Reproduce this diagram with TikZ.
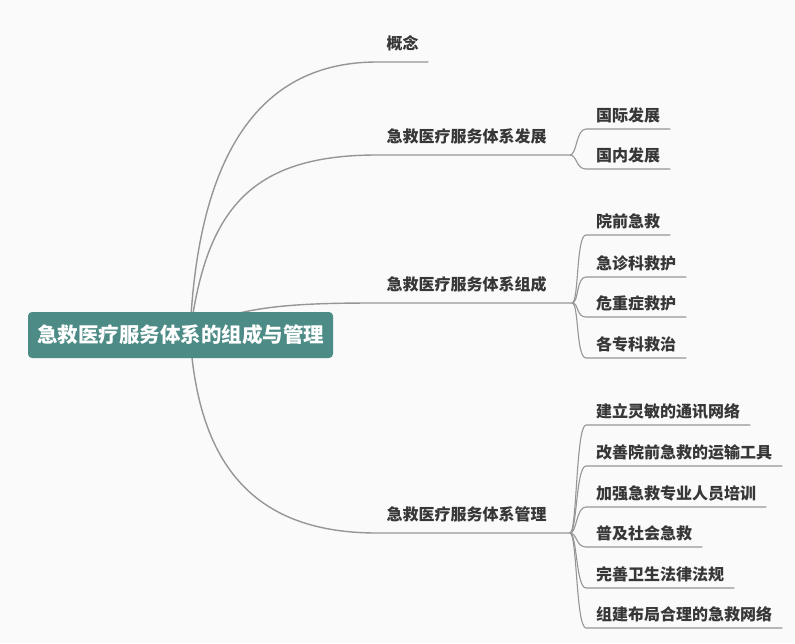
\documentclass[tikz,border=0pt]{standalone}
\usepackage{fontspec}
\setmainfont{Noto Sans CJK SC}
\definecolor{rootfill}{RGB}{77,139,134}
\definecolor{linegray}{RGB}{150,150,150}
\definecolor{txtgray}{RGB}{55,55,55}
\definecolor{bggray}{RGB}{250,250,250}
\tikzset{
  rootbox/.style={fill=rootfill, rounded corners=4pt, text=white, font=\fontsize{20.5}{24}\selectfont\bfseries,
    minimum width=305pt, minimum height=46pt, inner sep=0pt},
  lvlone/.style={anchor=south west, text=txtgray, font=\fontsize{16}{19}\selectfont\bfseries,
    inner xsep=9.5pt, inner ysep=10pt, text height=13pt, text depth=2pt},
  lvltwo/.style={anchor=south west, text=txtgray, font=\fontsize{16}{19}\selectfont\bfseries,
    inner xsep=10pt, inner ysep=5pt, text height=13pt, text depth=2pt},
  conn/.style={draw=linegray, line width=1.4pt},
  subconn/.style={draw=linegray, line width=1.1pt},
}
\begin{document}
\begin{tikzpicture}[x=1pt,y=-1pt]
\fill[bggray] (0,0) rectangle (795,643);
\useasboundingbox (0,0) rectangle (795,643);

\coordinate (rc) at (190,334);

% level one nodes
\node[lvlone] (b1) at (377,62) {概念};
\node[lvlone] (b2) at (377,155) {急救医疗服务体系发展};
\node[lvlone] (b3) at (377,303) {急救医疗服务体系组成};
\node[lvlone] (b4) at (377,533) {急救医疗服务体系管理};

\coordinate (j2) at (570,155);
\coordinate (j3) at (572,303);
\coordinate (j4) at (570,533);

% main connectors
\draw[conn] (rc) .. controls (198,150) and (262,62) .. (b1.south west) -- (b1.south east);
\draw[conn] (rc) .. controls (206,210) and (250,155) .. (b2.south west) -- (j2);
\draw[conn] (rc) .. controls (230,305) and (300,303) .. (b3.south west) -- (j3);
\draw[conn] (rc) .. controls (198,470) and (258,533) .. (b4.south west) -- (j4);

% children of b2
\node[lvltwo] (c21) at (586,129) {国际发展};
\node[lvltwo] (c22) at (586,169) {国内发展};
% children of b3
\node[lvltwo] (c31) at (586,235) {院前急救};
\node[lvltwo] (c32) at (586,277) {急诊科救护};
\node[lvltwo] (c33) at (586,317) {危重症救护};
\node[lvltwo] (c34) at (586,358) {各专科救治};
% children of b4
\node[lvltwo] (c41) at (586,425) {建立灵敏的通讯网络};
\node[lvltwo] (c42) at (586,466) {改善院前急救的运输工具};
\node[lvltwo] (c43) at (586,507) {加强急救专业人员培训};
\node[lvltwo] (c44) at (586,547) {普及社会急救};
\node[lvltwo] (c45) at (586,588) {完善卫生法律法规};
\node[lvltwo] (c46) at (586,628) {组建布局合理的急救网络};

\foreach \j/\c in {j2/c21,j2/c22,j3/c31,j3/c32,j3/c33,j3/c34,j4/c41,j4/c42,j4/c43,j4/c44,j4/c45,j4/c46}{
  \draw[subconn] (\j) .. controls ([xshift=7pt]\j) and ([xshift=-10pt]\c.south west) .. (\c.south west) -- (\c.south east);
}

% root
\node[rootbox] (root) at (180.5,335) {急救医疗服务体系的组成与管理};
\end{tikzpicture}
\end{document}
